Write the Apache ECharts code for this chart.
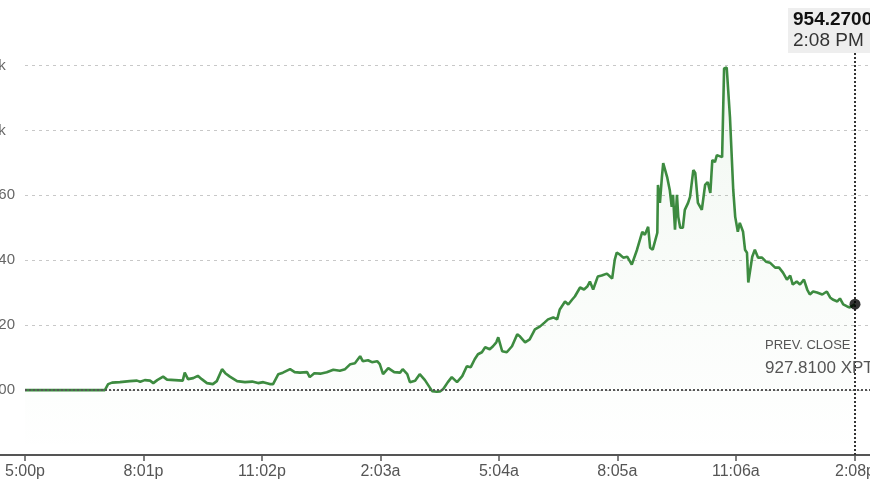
<!DOCTYPE html>
<html><head><meta charset="utf-8">
<script src="https://cdn.jsdelivr.net/npm/echarts@6/dist/echarts.min.js"></script>
<style>html,body{margin:0;padding:0;background:#fff;overflow:hidden}#c{width:870px;height:492px}</style>
</head><body><div id="c"></div>
<script>
// minutes elapsed since 5:00 PM
const minutes = [0,122,127,133,145,160,171,176,183,191,196,202,211,217,229,241,244,249,257,264,270,278,287,293,301,306,313,324,336,347,356,364,374,379,387,394,405,412,420,431,435,442,451,461,471,481,489,497,504,512,516,524,530,538,542,547,555,558,564,573,577,584,588,596,603,611,619,622,629,634,639,646,652,655,660,668,675,681,687,692,698,703,710,715,720,723,729,736,744,752,756,764,771,779,787,794,799,807,813,817,825,830,836,840,848,854,859,863,868,875,881,889,897,901,904,909,914,920,927,935,943,947,952,955,959,966,967,970,973,975,978,981,985,988,990,993,996,998,1001,1005,1008,1013,1016,1021,1024,1028,1031,1034,1039,1043,1047,1050,1054,1057,1065,1068,1072,1077,1082,1085,1089,1092,1097,1100,1103,1105,1111,1115,1120,1126,1132,1138,1146,1152,1158,1164,1169,1173,1179,1184,1190,1195,1199,1204,1210,1218,1225,1230,1234,1241,1245,1250,1256,1260,1265,1268];
const prices = [927.81,927.81,929.65,930.11,930.26,930.57,930.72,930.36,930.88,930.72,929.96,930.88,931.95,931.03,930.88,930.72,933.18,931.18,931.49,932.20,931.18,929.96,929.65,930.57,934.25,933.02,931.95,930.57,930.26,930.42,929.96,930.26,929.65,929.65,932.72,933.18,934.25,933.33,933.18,933.33,931.80,933.02,932.87,933.33,934.10,933.79,934.25,935.79,936.09,938.24,936.71,937.01,936.40,936.71,935.79,932.72,934.56,935.17,933.33,933.18,934.25,932.72,930.26,930.72,932.72,930.88,928.42,927.50,927.29,927.35,928.12,930.26,931.80,932.41,930.26,932.10,935.17,934.87,937.32,938.85,939.47,941.00,940.39,941.31,942.53,944.07,939.77,939.47,941.31,944.99,944.37,942.53,943.45,946.52,947.44,948.67,949.59,950.20,949.59,952.66,955.11,954.19,955.72,956.64,959.41,958.79,959.71,961.25,958.79,962.78,963.09,963.70,962.17,967.99,970.14,969.53,968.61,968.91,966.46,971.06,976.58,975.66,978.12,971.68,971.06,976.28,991.00,985.48,993.45,997.75,997.14,993.45,989.47,984.25,987.93,977.20,987.93,981.18,977.81,977.81,983.33,985.48,987.32,995.60,994.68,985.48,985.79,983.33,991.00,991.92,988.55,998.67,998.06,1000.20,999.59,1026.89,1027.20,1011.86,989.47,981.18,976.58,979.34,976.58,971.06,970.14,960.94,968.91,971.06,968.61,968.61,967.38,967.07,965.54,965.54,964.01,961.86,963.09,960.33,961.25,960.33,961.86,958.79,957.26,958.18,957.87,957.26,958.18,956.34,955.72,955.11,956.03,954.19,953.58,953.27,953.88,954.27];

const prevClose = 927.81;
const lastPrice = 954.27;
const lastTimeLabel = '2:08 PM';
const symbolName = 'XPT';
const xTickMinutes = [0,181,362,543,724,905,1086,1268];
const xTickLabels = ['5:00p','8:01p','11:02p','2:03a','5:04a','8:05a','11:06a','2:08p'];
const yTickLabels = ['900','920','940','960','1k','1k'];

const FONT = '"Liberation Sans", Arial, sans-serif';
const chart = echarts.init(document.getElementById('c'), null, {renderer:'canvas'});
const lastMin = minutes[minutes.length-1];

chart.setOption({
  animation:false,
  backgroundColor:'#fff',
  grid:[
    {left:25,right:0,top:10,bottom:37,containLabel:false,outerBoundsMode:'none'},
    {left:0,right:0,top:10,bottom:37,containLabel:false,outerBoundsMode:'none'}
  ],
  xAxis:[
    {gridIndex:0,type:'value',min:0,max:1290.92,
     axisLine:{show:false},
     axisTick:{show:true,customValues:xTickMinutes,length:6,lineStyle:{color:'#555',width:1.5}},
     axisLabel:{show:true,customValues:xTickMinutes,margin:9,color:'#555',fontSize:16,fontFamily:FONT,hideOverlap:false,
       formatter:(v)=>{const i=xTickMinutes.indexOf(Math.round(v));return i>=0?xTickLabels[i]:'';}},
     splitLine:{show:false}},
    {gridIndex:1,type:'value',min:0,max:1,
     axisLine:{show:true,lineStyle:{color:'#555',width:2}},
     axisTick:{show:false},axisLabel:{show:false},splitLine:{show:false}}
  ],
  yAxis:[
    {gridIndex:0,type:'value',min:907.81,max:1044.91,interval:20,
     axisLine:{show:false},axisTick:{show:false},
     axisLabel:{show:true,align:'left',margin:35,color:'#666',fontSize:15,fontFamily:FONT,showMaxLabel:false,showMinLabel:false,
       formatter:(v)=>{const k=Math.round((v-prevClose)/20);return (k>=0&&k<yTickLabels.length&&Math.abs(v-prevClose-k*20)<0.5)?yTickLabels[k]:'';}},
     splitLine:{show:true,showMinLine:false,showMaxLine:false,lineStyle:{color:'#c8c8c8',type:[3,4],width:1}}},
    {gridIndex:1,type:'value',show:false,min:0,max:1}
  ],
  series:[
    {type:'line',xAxisIndex:0,yAxisIndex:0,data:minutes.map((m,i)=>[m,prices[i]]),
     showSymbol:false,symbol:'none',
     lineStyle:{color:'#3d8b40',width:2.6},
     areaStyle:{color:new echarts.graphic.LinearGradient(0,0,0,1,[{offset:0,color:'rgba(70,150,70,0.10)'},{offset:1,color:'rgba(70,150,70,0.0)'}])},
     z:3,
     markLine:{silent:true,symbol:'none',label:{show:false},animation:false,
       data:[
         {yAxis:prevClose,lineStyle:{color:'#555',type:[2,2],width:2}},
         {xAxis:lastMin,lineStyle:{color:'#333',type:[2,2],width:2}}
       ]}
    },
    {type:'scatter',xAxisIndex:0,yAxisIndex:0,data:[[lastMin,lastPrice]],symbolSize:11,
     itemStyle:{color:'#000'},z:5}
  ],
  graphic:[
    {type:'rect',left:788,top:8,z:10,shape:{width:90,height:45},style:{fill:'#eeeeee'}},
    {type:'text',left:793,top:10,z:11,style:{text:lastPrice.toFixed(4),fill:'#111',font:'bold 19px '+FONT}},
    {type:'text',left:793,top:31,z:11,style:{text:lastTimeLabel,fill:'#333',font:'19px '+FONT}},
    {type:'text',left:765,top:339,z:11,style:{text:'PREV. CLOSE',fill:'#555',font:'13px '+FONT}},
    {type:'text',left:765,top:360,z:11,style:{text:prevClose.toFixed(4)+' '+symbolName,fill:'#555',font:'17px '+FONT}}
  ]
});
</script></body></html>
